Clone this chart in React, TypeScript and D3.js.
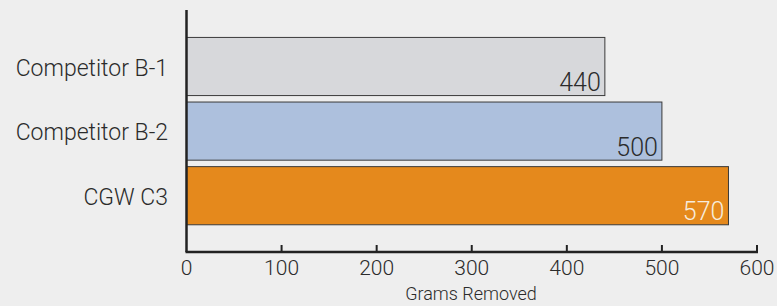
import { useEffect, useRef } from 'react'
import * as d3 from 'd3'

const categories = ['Competitor B-1', 'Competitor B-2', 'CGW C3']
const values = [440, 500, 570]
const barColors = ['#d7d8db', '#adc0dd', '#e5891c']
const labelColors = ['#2b2b2b', '#2b2b2b', '#f7ecdc']
const xTicks = [0, 100, 200, 300, 400, 500, 600]

export default () => {
  const svgRef = useRef<SVGSVGElement>(null)

  useEffect(() => {
    const width = 777,
      height = 306

    const svg = d3
      .select(svgRef.current)
      .attr('width', width)
      .attr('height', height)
      .style('background-color', '#eeeeee')
      .style('position', 'absolute')
      .style('left', '0px')
      .style('top', '0px')

    svg.selectAll('*').remove()

    const x = d3.scaleLinear().domain([0, 600]).range([186.5, 757])
    const y = d3
      .scaleBand()
      .domain(categories)
      .range([34.2, 228])
      .paddingInner(0.1)
      .paddingOuter(0.05)

    const font = 'Roboto, "DejaVu Sans", sans-serif'

    // bars
    svg
      .selectAll('rect.bar')
      .data(values)
      .join('rect')
      .attr('class', 'bar')
      .attr('x', x(0))
      .attr('y', (_, i) => y(categories[i]) as number)
      .attr('width', (d) => x(d) - x(0))
      .attr('height', y.bandwidth())
      .attr('fill', (_, i) => barColors[i])
      .attr('stroke', '#3a3a3a')
      .attr('stroke-width', 1)

    // value labels
    svg
      .selectAll('text.val')
      .data(values)
      .join('text')
      .attr('class', 'val')
      .attr('x', (d) => x(d) - 4)
      .attr('y', (_, i) => (y(categories[i]) as number) + y.bandwidth() - 4.5)
      .attr('text-anchor', 'end')
      .attr('font-family', font)
      .attr('font-weight', 300)
      .attr('font-size', 25)
      .attr('fill', (_, i) => labelColors[i])
      .text((d) => d)

    // category labels
    svg
      .selectAll('text.cat')
      .data(categories)
      .join('text')
      .attr('class', 'cat')
      .attr('x', 168)
      .attr('y', (d) => (y(d) as number) + y.bandwidth() / 2)
      .attr('dy', '0.4em')
      .attr('text-anchor', 'end')
      .attr('font-family', font)
      .attr('font-weight', 300)
      .attr('font-size', 23)
      .attr('fill', '#2b2b2b')
      .text((d) => d)

    const axisY = 252

    // axes lines
    svg
      .append('line')
      .attr('x1', x(0))
      .attr('x2', x(0))
      .attr('y1', 10)
      .attr('y2', axisY)
      .attr('stroke', '#222')
      .attr('stroke-width', 2.5)
    svg
      .append('line')
      .attr('x1', x(0) - 1)
      .attr('x2', x(600) + 1)
      .attr('y1', axisY)
      .attr('y2', axisY)
      .attr('stroke', '#222')
      .attr('stroke-width', 2.5)

    // ticks
    svg
      .selectAll('line.tick')
      .data(xTicks.slice(1))
      .join('line')
      .attr('class', 'tick')
      .attr('x1', (d) => x(d))
      .attr('x2', (d) => x(d))
      .attr('y1', axisY - 7)
      .attr('y2', axisY)
      .attr('stroke', '#222')
      .attr('stroke-width', 2)

    svg
      .selectAll('text.tl')
      .data(xTicks)
      .join('text')
      .attr('class', 'tl')
      .attr('x', (d) => x(d))
      .attr('y', 275)
      .attr('text-anchor', 'middle')
      .attr('font-family', font)
      .attr('font-weight', 300)
      .attr('font-size', 21)
      .attr('fill', '#2b2b2b')
      .text((d) => d)

    svg
      .append('text')
      .attr('x', 471)
      .attr('y', 300)
      .attr('text-anchor', 'middle')
      .attr('font-family', font)
      .attr('font-weight', 300)
      .attr('font-size', 18)
      .attr('fill', '#2b2b2b')
      .text('Grams Removed')
  }, [])

  return <svg ref={svgRef}></svg>
}
